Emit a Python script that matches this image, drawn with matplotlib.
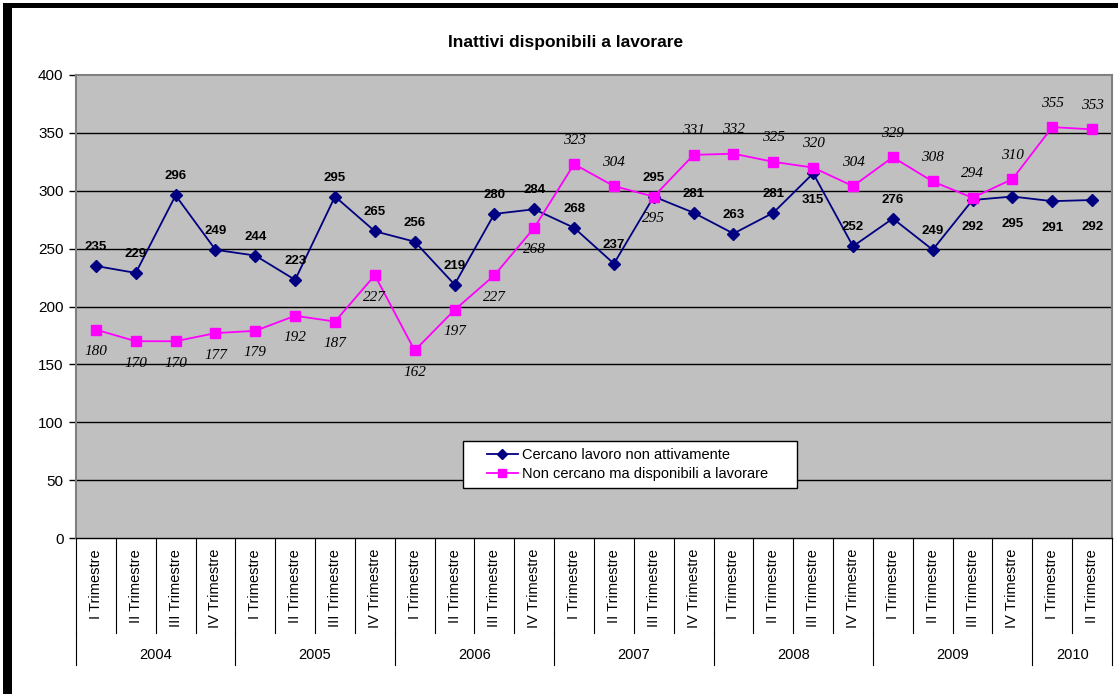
import matplotlib
matplotlib.use("Agg")
import matplotlib.pyplot as plt
import matplotlib.transforms as mtransforms
from matplotlib.lines import Line2D
from matplotlib.legend_handler import HandlerLine2D

# ---------------- data ----------------
title = "Inattivi disponibili a lavorare"
years = ["2004", "2005", "2006", "2007", "2008", "2009", "2010"]
quarters_per_year = [4, 4, 4, 4, 4, 4, 2]
quarter_names = ["I Trimestre", "II Trimestre", "III Trimestre", "IV Trimestre"]

series_blue_name = "Cercano lavoro non attivamente"
series_blue = [235, 229, 296, 249, 244, 223, 295, 265, 256, 219, 280, 284, 268,
               237, 295, 281, 263, 281, 315, 252, 276, 249, 292, 295, 291, 292]

series_pink_name = "Non cercano ma disponibili a lavorare"
series_pink = [180, 170, 170, 177, 179, 192, 187, 227, 162, 197, 227, 268, 323,
               304, 295, 331, 332, 325, 320, 304, 329, 308, 294, 310, 355, 353]

# label placement (style): +1 above the point, -1 below
blue_label_side = [1] * 18 + [-1] + [1, 1, 1] + [-1, -1, -1, -1]
pink_label_side = [-1] * 12 + [1, 1, -1] + [1] * 11

y_ticks = [0, 50, 100, 150, 200, 250, 300, 350, 400]

# ---------------- figure ----------------
W, H = 1118, 694
fig = plt.figure(figsize=(W / 100, H / 100), dpi=100)
fig.patch.set_facecolor("white")

left_px, right_px, top_px, bottom_px = 76, 1112, 75, 538
ax = fig.add_axes([left_px / W, 1 - bottom_px / H,
                   (right_px - left_px) / W, (bottom_px - top_px) / H])
ax.set_facecolor("#C0C0C0")

quarters = []
for n in quarters_per_year:
    quarters += quarter_names[:n]
n = len(quarters)
xs = [i + 0.5 for i in range(n)]

ax.set_xlim(0, n)
ax.set_ylim(0, 400)
ax.set_yticks(y_ticks)
ax.set_yticklabels([str(t) for t in y_ticks], fontsize=11, family="Liberation Sans")
ax.tick_params(axis="y", direction="out", length=5, width=1, color="black", pad=4)
ax.set_xticks([])

for t in y_ticks[1:-1]:
    ax.axhline(t, color="black", lw=1, zorder=1)

for side in ["top", "right", "left"]:
    ax.spines[side].set_color("#808080")
    ax.spines[side].set_linewidth(1.5)
ax.spines["bottom"].set_color("black")
ax.spines["bottom"].set_linewidth(1)

ax.plot(xs, series_blue, color="#000080", lw=1.3, marker="D", markersize=6,
        markerfacecolor="#000080", markeredgecolor="#000080", zorder=3,
        label=series_blue_name)
ax.plot(xs, series_pink, color="#FF00FF", lw=1.3, marker="s", markersize=7.5,
        markerfacecolor="#FF00FF", markeredgecolor="#FF00FF", zorder=4,
        label=series_pink_name)

# data labels (offsets in pixels converted to points)
px = 0.72
for x, v, s in zip(xs, series_blue, blue_label_side):
    off = 19 if s > 0 else -27
    ax.annotate(str(v), (x, v), xytext=(0, off * px), textcoords="offset points",
                ha="center", va="center", fontsize=9.5, fontweight="bold",
                family="Liberation Sans", color="black", zorder=5)
for x, v, s in zip(xs, series_pink, pink_label_side):
    off = 24 if s > 0 else -22
    ax.annotate(str(v), (x, v), xytext=(0, off * px), textcoords="offset points",
                ha="center", va="center", fontsize=11, fontstyle="italic",
                family="Liberation Serif", color="black", zorder=5)

# two-level category axis
ah = bottom_px - top_px
def yfrac(py):
    return -(py - bottom_px) / ah

trans = mtransforms.blended_transform_factory(ax.transData, ax.transAxes)
for i, q in enumerate(quarters):
    ax.text(i + 0.5, yfrac(549), q, rotation=90, ha="center", va="top",
            fontsize=10.5, family="Liberation Sans", transform=trans)
for i in range(n + 1):
    ax.add_line(Line2D([i, i], [0, yfrac(633)], transform=trans, color="black",
                       lw=0.8, clip_on=False))
start = 0
bounds = [0]
for yr, cnt in zip(years, quarters_per_year):
    ax.text(start + cnt / 2, yfrac(655), yr, ha="center", va="center",
            fontsize=10.5, family="Liberation Sans", transform=trans)
    start += cnt
    bounds.append(start)
for b in bounds:
    ax.add_line(Line2D([b, b], [yfrac(633), yfrac(665)], transform=trans,
                       color="black", lw=0.8, clip_on=False))

# legend
fs_px = 10.5 * 100 / 72
leg = ax.legend(loc="lower left",
                bbox_to_anchor=((463 - left_px) / (right_px - left_px), yfrac(488),
                                (797 - 463) / (right_px - left_px), (488 - 441) / ah),
                mode="expand", frameon=True, fancybox=False,
                edgecolor="black", facecolor="white", framealpha=1,
                handlelength=48 / fs_px, handletextpad=4 / fs_px, borderpad=0.45,
                labelspacing=0.4, prop={"family": "Liberation Sans", "size": 10.5},
                borderaxespad=0,
                handler_map={Line2D: HandlerLine2D(xpad=17 / fs_px)})
leg.get_frame().set_linewidth(1)
for h in leg.legend_handles:
    h.set_markersize(5.5)

# title
fig.text(566 / W, 1 - 43 / H, title, ha="center", va="center", fontsize=12.5,
         fontweight="bold", family="Liberation Sans")

# outer black border (left and top)
fig.add_artist(plt.Rectangle((3 / W, 0), 9 / W, 1 - 3 / H, transform=fig.transFigure,
                             color="black", lw=0))
fig.add_artist(plt.Rectangle((3 / W, 1 - 8 / H), 1, 5 / H, transform=fig.transFigure,
                             color="black", lw=0))

fig.savefig("out.png", dpi=100)
